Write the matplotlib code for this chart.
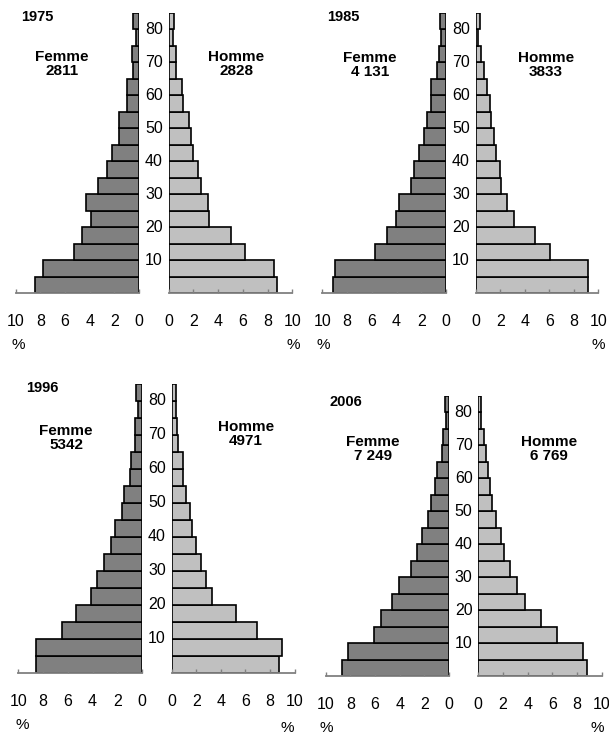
import matplotlib
matplotlib.use("Agg")
import matplotlib.pyplot as plt
import matplotlib.transforms as mtrans

plt.rcParams['font.family'] = ['Liberation Sans', 'DejaVu Sans']

# age groups (lower bound of each 5-year class, 80 = 80+)
ages = list(range(0, 85, 5))
age_labels = [10, 20, 30, 40, 50, 60, 70, 80]
xticks = [0, 2, 4, 6, 8, 10]

years = ["1975", "1985", "1996", "2006"]
femme_totals = ["2811", "4 131", "5342", "7 249"]
homme_totals = ["2828", "3833", "4971", "6 769"]

# % of population by age group, bottom (0-4) to top (80+)
femme_1975 = [8.4, 7.8, 5.3, 4.6, 3.9, 4.3, 3.3, 2.6, 2.2, 1.6, 1.6, 0.95, 0.95, 0.5, 0.6, 0.25, 0.5]
homme_1975 = [8.8, 8.55, 6.2, 5.0, 3.3, 3.2, 2.6, 2.4, 2.0, 1.8, 1.65, 1.15, 1.05, 0.6, 0.6, 0.35, 0.45]
femme_1985 = [9.15, 9.0, 5.7, 4.75, 4.05, 3.8, 2.85, 2.6, 2.15, 1.8, 1.55, 1.2, 1.2, 0.75, 0.6, 0.4, 0.5]
homme_1985 = [9.15, 9.15, 6.05, 4.85, 3.15, 2.55, 2.1, 2.0, 1.65, 1.5, 1.25, 1.15, 0.9, 0.7, 0.45, 0.2, 0.35]
femme_1996 = [8.55, 8.55, 6.5, 5.3, 4.15, 3.65, 3.05, 2.5, 2.15, 1.65, 1.45, 1.0, 0.9, 0.55, 0.55, 0.35, 0.45]
homme_1996 = [8.7, 8.95, 6.9, 5.25, 3.3, 2.75, 2.35, 2.0, 1.65, 1.45, 1.15, 0.9, 0.9, 0.55, 0.45, 0.35, 0.35]
femme_2006 = [8.7, 8.2, 6.1, 5.5, 4.65, 4.05, 3.1, 2.6, 2.15, 1.7, 1.45, 1.1, 0.95, 0.6, 0.5, 0.25, 0.35]
homme_2006 = [8.8, 8.45, 6.4, 5.1, 3.8, 3.15, 2.6, 2.1, 1.8, 1.4, 1.15, 0.95, 0.8, 0.6, 0.45, 0.2, 0.2]

femmes = [femme_1975, femme_1985, femme_1996, femme_2006]
hommes = [homme_1975, homme_1985, homme_1996, homme_2006]

W, H = 609, 736
fig = plt.figure(figsize=(W / 100, H / 100), dpi=100)

# panel geometry in pixels: female x(10), female x(0), male x(0), male x(10), top, bottom
geom = [
    (15.7, 139.0, 168.7, 292.3, 12.7, 293.3),
    (322.3, 446.0, 475.7, 598.3, 12.7, 293.3),
    (18.3, 142.0, 171.7, 294.7, 384.0, 672.7),
    (325.7, 449.0, 478.3, 601.7, 396.0, 676.0),
]
# text positions in pixels: year, femme label, homme label, % left, % right
text_pos = [
    ((21, 17), (62, 64), (236, 64), (18, 345), (293, 345)),
    ((327, 17), (370, 65), (546, 65), (323, 345), (598, 345)),
    ((26, 388), (66, 438), (246, 434), (22, 725), (287, 728)),
    ((330, 402), (373, 449), (549, 449), (326, 728), (597, 728)),
]


def px_axes(x0, x1, yt, yb):
    return fig.add_axes([x0 / W, 1 - yb / H, (x1 - x0) / W, (yb - yt) / H])


def style_axes(ax):
    for side in ["top", "left", "right"]:
        ax.spines[side].set_visible(False)
    ax.spines["bottom"].set_color("#808080")
    ax.spines["bottom"].set_linewidth(1.3)
    ax.set_yticks([])
    ax.set_xticks(xticks)
    ax.set_xticklabels([str(t) for t in xticks])
    ax.tick_params(axis="x", direction="in", length=3, width=1, color="#808080",
                   pad=15, labelsize=11.5)
    ax.set_ylim(0, 85)
    ax.patch.set_alpha(0)


for i in range(4):
    fx10, fx0, mx0, mx10, yt, yb = geom[i]
    axf = px_axes(fx10, fx0, yt, yb)
    axm = px_axes(mx0, mx10, yt, yb)

    axf.barh(ages, femmes[i], height=5, align="edge", color="#808080",
             edgecolor="black", linewidth=1.2)
    axm.barh(ages, hommes[i], height=5, align="edge", color="#c0c0c0",
             edgecolor="black", linewidth=1.2)
    axf.set_xlim(10, 0)
    axm.set_xlim(0, 10)
    style_axes(axf)
    style_axes(axm)

    # age labels in the gap between the two halves
    mid = (fx0 + mx0) / 2 / W
    tr = mtrans.blended_transform_factory(fig.transFigure, axf.transData)
    for a in age_labels:
        fig.text(mid, a, str(a), transform=tr, ha="center", va="center", fontsize=11.5)

    (yx, yy), (fxl, fyl), (hxl, hyl), (plx, ply), (prx, pry) = text_pos[i]
    fig.text(yx / W, 1 - yy / H, years[i], ha="left", va="center",
             fontsize=10.5, fontweight="bold")
    fig.text(fxl / W, 1 - fyl / H, "Femme\n" + femme_totals[i], ha="center", va="center",
             fontsize=11, fontweight="bold", linespacing=1.0)
    fig.text(hxl / W, 1 - hyl / H, "Homme\n" + homme_totals[i], ha="center", va="center",
             fontsize=11, fontweight="bold", linespacing=1.0)
    fig.text(plx / W, 1 - ply / H, "%", ha="center", va="center", fontsize=11)
    fig.text(prx / W, 1 - pry / H, "%", ha="center", va="center", fontsize=11)

fig.savefig("out.png", dpi=100)
